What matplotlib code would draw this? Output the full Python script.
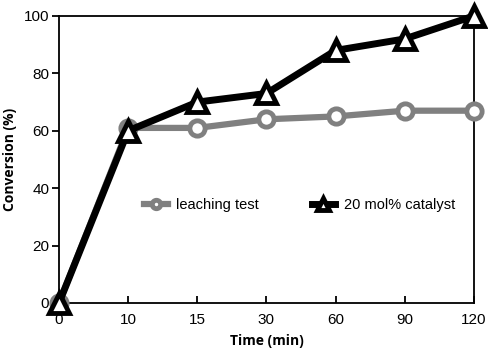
import matplotlib
matplotlib.use('Agg')
import matplotlib.pyplot as plt

# Datos
time_labels = ['0', '10', '15', '30', '60', '90', '120']
leaching = [0, 61, 61, 64, 65, 67, 67]
catalyst = [0, 60, 70, 73, 88, 92, 100]

plt.rcParams['font.family'] = ['Liberation Sans', 'DejaVu Sans']

fig = plt.figure(figsize=(4.89, 3.55), dpi=100)
ax = fig.add_axes([0.1207, 0.1465, 0.8483, 0.8085])

x = list(range(len(time_labels)))
ax.plot(x, leaching, color='#808080', lw=4.5, marker='o', markersize=11,
        markerfacecolor='white', markeredgecolor='#808080', markeredgewidth=3.5,
        label='leaching test', clip_on=False, zorder=3)
ax.plot(x, catalyst, color='black', lw=5, marker='^', markersize=15,
        markerfacecolor='white', markeredgecolor='black', markeredgewidth=3.5,
        label='20 mol% catalyst', clip_on=False, zorder=4)

ax.set_xlim(0, 6)
ax.set_ylim(0, 100)
ax.set_xticks(x)
ax.set_xticklabels(time_labels)
ax.set_yticks([0, 20, 40, 60, 80, 100])
ax.tick_params(axis='x', direction='in', length=5, width=1.3, labelsize=11, pad=7)
ax.tick_params(axis='y', direction='out', length=5, width=1.3, labelsize=11, pad=2)
for s in ax.spines.values():
    s.set_linewidth(1.3)

ax.set_xlabel('Time (min)', fontsize=10, fontweight='bold', family='Open Sans', labelpad=5)
ax.set_ylabel('Conversion (%)', fontsize=10, fontweight='bold', family='Open Sans', labelpad=5)

leg = ax.legend(loc='center', bbox_to_anchor=(0.58, 0.34), ncol=2, frameon=False,
                fontsize=10.5, markerscale=0.55, handlelength=1.6, handletextpad=0.6,
                columnspacing=3.6)

plt.savefig('out.png', dpi=100)
